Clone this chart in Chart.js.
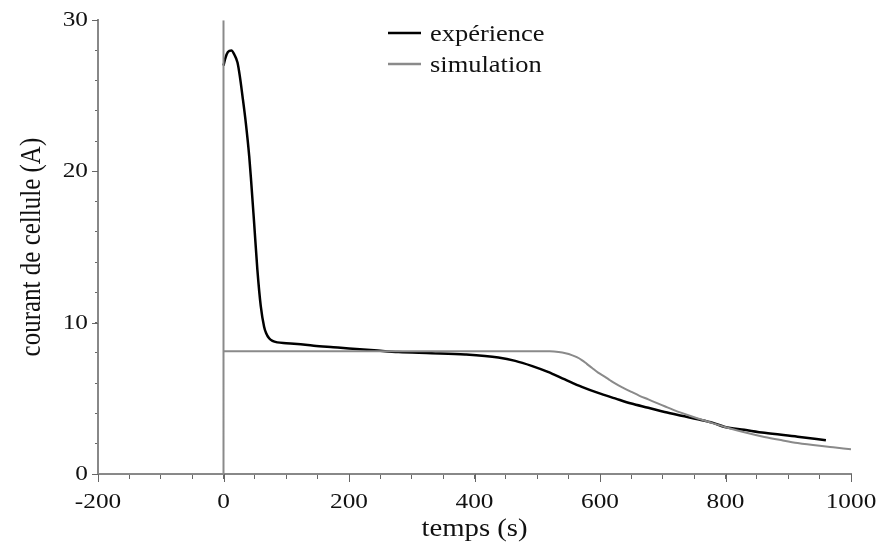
<!DOCTYPE html>
<html>
<head>
<meta charset="utf-8">
<script src="https://cdn.jsdelivr.net/npm/chart.js@4"></script>
<style>
  body { margin: 0; background: #fff; }
  #wrap { width: 883px; height: 545px; position: relative; }
</style>
</head>
<body>
<div id="wrap"><canvas id="courant"></canvas></div>
<script>
// experience (black)
const tExp = [0, 3, 7, 12.7, 17, 22.3, 26, 30.2, 35.6, 41, 44, 48.8, 54, 59.4, 64.7, 68, 72.7, 78, 85.9, 100, 117.6, 144, 175, 200, 240, 279, 332, 385, 438, 465, 491, 517, 544, 571, 597, 624, 650, 677, 703, 730, 756, 780, 799, 830, 862, 915, 960];
const iExp = [27.0, 27.5, 27.9, 28.0, 27.75, 27.2, 26.3, 25.0, 23.2, 21.0, 19.4, 16.6, 13.5, 11.1, 9.74, 9.3, 8.97, 8.8, 8.7, 8.65, 8.59, 8.48, 8.38, 8.3, 8.18, 8.06, 7.99, 7.9, 7.7, 7.48, 7.15, 6.75, 6.25, 5.76, 5.36, 5.0, 4.66, 4.38, 4.1, 3.85, 3.62, 3.38, 3.11, 2.92, 2.72, 2.47, 2.23];

// simulation (gray)
const tSim = [-200, 0, 0, 0, 500, 520, 534, 545, 555, 563, 571, 579, 587, 597, 608, 616, 624, 637, 650, 663, 677, 690, 703, 716, 730, 743, 756, 778, 799, 830, 862, 890, 915, 950, 975, 1000];
const iSim = [0, 0, 30, 8.12, 8.12, 8.11, 8.06, 7.98, 7.86, 7.72, 7.53, 7.28, 7.02, 6.7, 6.42, 6.2, 5.99, 5.7, 5.43, 5.17, 4.93, 4.7, 4.48, 4.26, 4.04, 3.85, 3.67, 3.38, 3.11, 2.76, 2.45, 2.23, 2.05, 1.86, 1.75, 1.64];

const xMajor = [-200, 0, 200, 400, 600, 800, 1000];
const yMajor = [0, 10, 20, 30];

const legendItems = ['expérience', 'simulation'];
const legendColors = ['#000000', '#8a8a8a'];

const serif = '"Liberation Serif", "DejaVu Serif", serif';
const STRETCH = 1.15; // the original lettering is a bit wide

const pts = (xs, ys) => xs.map((x, i) => ({x: x, y: ys[i]}));

// widen all text horizontally (screen x), around its anchor point
const stretchText = {
    id: 'stretchText',
    beforeInit(chart){
        const ctx = chart.ctx;
        const orig = ctx.fillText.bind(ctx);
        ctx.fillText = function(text, x, y, maxWidth){
            const m = ctx.getTransform();
            const p = m.transformPoint(new DOMPoint(x, y));
            ctx.save();
            ctx.setTransform(new DOMMatrix().translate(p.x, p.y).scale(STRETCH, 1).translate(-p.x, -p.y).multiply(m));
            if(maxWidth !== undefined) orig(text, x, y, maxWidth);
            else orig(text, x, y);
            ctx.restore();
        };
    }
};

// longer tick marks at the labelled values
const majorTicks = {
    id: 'majorTicks',
    afterDraw(chart){
        const ctx = chart.ctx;
        const xs = chart.scales.x, ys = chart.scales.y;
        ctx.save();
        ctx.strokeStyle = '#666';
        ctx.lineWidth = 1;
        ctx.beginPath();
        for(let v of xMajor){
            let px = Math.round(xs.getPixelForValue(v)) + 0.5;
            ctx.moveTo(px, xs.top);
            ctx.lineTo(px, xs.top + 8);
        }
        for(let v of yMajor){
            let py = Math.round(ys.getPixelForValue(v)) + 0.5;
            ctx.moveTo(ys.right, py);
            ctx.lineTo(ys.right - 6, py);
        }
        ctx.stroke();
        ctx.restore();
    }
};

// small legend drawn inside the plot, like the original
const innerLegend = {
    id: 'innerLegend',
    afterDraw(chart){
        const ctx = chart.ctx;
        ctx.save();
        ctx.font = '23px ' + serif;
        ctx.textBaseline = 'middle';
        ctx.textAlign = 'left';
        legendItems.forEach((txt, i) => {
            let y = 33 + i * 31;
            ctx.strokeStyle = legendColors[i];
            ctx.lineWidth = 2.5;
            ctx.beginPath();
            ctx.moveTo(388, y);
            ctx.lineTo(421, y);
            ctx.stroke();
            ctx.fillStyle = '#111';
            ctx.fillText(txt, 430, y + 1.5);
        });
        ctx.restore();
    }
};

const chart = new Chart(
    document.getElementById('courant').getContext('2d'),
    {
        type: 'line',
        data: {
            datasets: [
                {label: 'simulation', data: pts(tSim, iSim), borderColor: '#8a8a8a', borderWidth: 2, pointRadius: 0, cubicInterpolationMode: 'monotone'},
                {label: 'expérience', data: pts(tExp, iExp), borderColor: '#000', borderWidth: 2.5, pointRadius: 0, cubicInterpolationMode: 'monotone'}
            ]
        },
        options: {
            responsive: true,
            maintainAspectRatio: false,
            animation: false,
            layout: {padding: {left: 0, top: 20, right: 31, bottom: 0}},
            plugins: {legend: {display: false}, tooltip: {enabled: false}},
            scales: {
                x: {
                    type: 'linear',
                    min: -200,
                    max: 1000,
                    afterFit: s => { s.height = 71; },
                    border: {color: '#888', width: 2},
                    grid: {drawOnChartArea: false, tickLength: 5, color: '#666'},
                    ticks: {
                        stepSize: 50,
                        autoSkip: false,
                        maxRotation: 0,
                        padding: 10,
                        color: '#111',
                        font: {family: serif, size: 22},
                        callback: v => (v % 200 === 0 ? v : '')
                    },
                    title: {display: true, text: 'temps (s)', color: '#111', font: {family: serif, size: 25}, padding: {top: 0, bottom: 1}}
                },
                y: {
                    min: 0,
                    max: 30,
                    afterFit: s => { s.width = 98; },
                    border: {color: '#888', width: 2},
                    grid: {drawOnChartArea: false, tickLength: 3, color: '#666'},
                    ticks: {
                        stepSize: 2,
                        autoSkip: false,
                        padding: 7,
                        color: '#111',
                        font: {family: serif, size: 22},
                        callback: v => (v % 10 === 0 ? v : '')
                    },
                    title: {display: true, text: 'courant de cellule (A)', color: '#111', font: {family: serif, size: 25}, padding: {top: 17, bottom: 0}}
                }
            }
        },
        plugins: [stretchText, majorTicks, innerLegend]
    }
)

chart.update()
</script>
</body>
</html>
